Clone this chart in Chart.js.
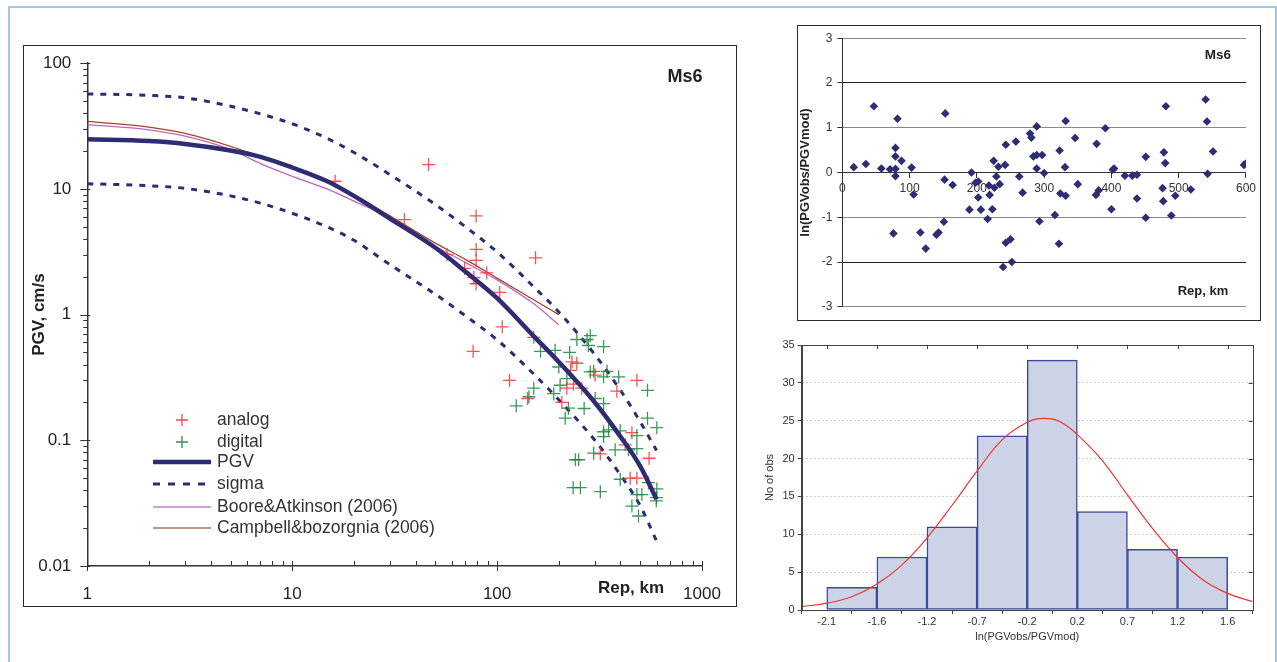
<!DOCTYPE html>
<html>
<head>
<meta charset="utf-8">
<script src="https://cdn.jsdelivr.net/npm/chart.js@4.4.1/dist/chart.umd.min.js"></script>
<style>
  body { margin: 0; background: #fff; width: 1277px; height: 662px; overflow: hidden; position: relative; }
  .page { position: absolute; left: 8px; top: 6px; width: 1269px; height: 700px; border: 2px solid #a3c7ea; box-sizing: border-box; }
  canvas { position: absolute; }
  .frame { position: absolute; border: 1.5px solid #2a2a2a; box-sizing: border-box; pointer-events: none; }
</style>
</head>
<body>
<div class="page"></div>
<canvas id="main" width="714" height="562" style="left:23px;top:45px;width:714px;height:562px"></canvas>
<div class="frame" style="left:23px;top:45px;width:714px;height:562px"></div>
<canvas id="resid" width="462" height="293" style="left:798px;top:26px;width:462px;height:293px"></canvas>
<div class="frame" style="left:797px;top:25px;width:464px;height:296px"></div>
<canvas id="hist" width="520" height="330" style="left:755px;top:330px;width:520px;height:330px"></canvas>
<script>
// model curves, distance in km
const curveDist = [1, 2, 3, 5, 7, 10, 15, 20, 30, 50, 70, 100, 150, 200, 300, 400, 500, 600];
const pgvModel = [24.8, 24.0, 22.8, 20.2, 18.0, 14.8, 11.4, 8.8, 5.8, 3.4, 2.2, 1.35, 0.68, 0.42, 0.2, 0.107, 0.062, 0.034];
const sigmaUpper = [57, 55.5, 53, 45.5, 39.5, 33, 25, 19.5, 13, 7.5, 5.0, 3.15, 1.68, 1.05, 0.48, 0.25, 0.14, 0.083];
const sigmaLower = [11, 10.6, 10.1, 8.8, 7.7, 6.4, 4.95, 3.9, 2.5, 1.45, 0.98, 0.63, 0.34, 0.21, 0.1, 0.053, 0.03, 0.0158];
const gmpeDist = [1, 2, 3, 5, 7, 10, 15, 20, 30, 50, 70, 100, 150, 200];
const booreAtkinson = [32.4, 29.5, 26.3, 20.6, 15.9, 12.6, 9.9, 8.0, 5.9, 3.5, 2.6, 1.89, 1.23, 0.83];
const campbellBozorgnia = [34.4, 31, 27.6, 21.8, 18, 14.8, 11.5, 9.0, 6.1, 3.7, 2.75, 1.95, 1.32, 1.0];

// observed PGV (cm/s) against epicentral distance (km)
const analogDist = [16.2, 35.3, 46.3, 57, 69.5, 76.4, 79, 79, 79, 77, 79, 89, 103, 106, 115, 141, 151, 154, 207, 219,
  228, 232, 236, 245, 259, 301, 319, 384, 422, 446, 455, 481, 481, 552];
const analogPgv = [11.5, 5.7, 15.6, 3.0, 2.33, 0.51, 6.1, 3.3, 2.7, 1.97, 1.76, 2.15, 1.5, 0.8, 0.3, 0.215, 0.66, 2.83, 0.2, 0.26,
  0.36, 0.42, 0.28, 0.41, 0.26, 0.33, 0.078, 0.246, 0.092, 0.05, 0.115, 0.3, 0.05, 0.072];
const digitalDist = [245, 275, 285, 331, 279, 163, 192, 226, 200, 285, 296, 331, 392, 344, 219, 203, 189, 151, 143, 124,
  223, 266, 215, 331, 301, 542, 542, 602, 331, 350, 331, 399, 481, 377, 438, 481, 296, 241, 250, 319,
  235, 255, 399, 548, 602, 600, 598, 481, 509, 455, 490];
const digitalPgv = [0.634, 0.634, 0.68, 0.557, 0.568, 0.51, 0.52, 0.5, 0.383, 0.35, 0.354, 0.32, 0.32, 0.354, 0.31, 0.274, 0.235, 0.26, 0.222, 0.188,
  0.18, 0.179, 0.15, 0.196, 0.215, 0.25, 0.15, 0.126, 0.117, 0.121, 0.107, 0.119, 0.109, 0.084, 0.084, 0.086, 0.079, 0.07, 0.07, 0.039,
  0.042, 0.042, 0.049, 0.046, 0.041, 0.035, 0.033, 0.037, 0.037, 0.03, 0.025];

// residuals ln(PGVobs/PGVmod)
const residDist = [17, 35, 47, 58, 71, 79, 79, 79, 79, 76, 82, 88, 103, 106, 116, 124, 140, 143, 151, 153,
  152, 164, 189, 192, 198, 202, 202, 206, 216, 218, 219, 223, 225, 226, 229, 232, 234, 239, 242, 243,
  243, 250, 252, 258, 263, 268, 279, 281, 284, 289, 289, 289, 297, 300, 293, 316, 322, 323, 324, 331,
  332, 332, 346, 350, 377, 378, 381, 391, 400, 402, 404, 420, 431, 438, 438, 451, 451, 476, 477, 478,
  480, 481, 489, 495, 518, 540, 542, 543, 551, 597, 600];
const residLn = [0.12, 0.19, 1.48, 0.09, 0.07, 0.08, 0.55, 0.36, -0.08, -1.36, 1.2, 0.26, 0.11, -0.49, -1.34, -1.7, -1.39, -1.34, -1.1, 1.32,
  -0.16, -0.28, -0.83, 0.0, -0.23, -0.2, -0.56, -0.83, -1.04, -0.29, -0.5, -0.82, 0.26, -0.34, -0.09, 0.13, -0.26, -2.11, 0.17, 0.62,
  -1.57, -1.49, -2.0, 0.69, -0.09, -0.45, 0.87, 0.78, 0.36, 1.03, 0.39, 0.09, 0.39, -0.01, -1.09, -0.95, -1.59, 0.49, -0.47, 0.12,
  1.15, -0.52, 0.77, -0.26, -0.5, 0.64, -0.4, 0.99, -0.82, 0.06, 0.09, -0.07, -0.07, -0.05, -0.58, 0.35, -1.01, -0.35, -0.64, 0.45,
  0.21, 1.48, -0.96, -0.52, -0.38, 1.63, 1.14, -0.03, 0.47, 0.17, 0.2];

// histogram of residuals and fitted normal curve
const binEdges = [-2.1, -1.6375, -1.175, -0.7125, -0.25, 0.2125, 0.675, 1.1375, 1.6];
const binLabels = ['-2.1', '-1.6', '-1.2', '-0.7', '-0.2', '0.2', '0.7', '1.2', '1.6'];
const binCounts = [3, 7, 11, 23, 33, 13, 8, 7];
const fitX = [-2.33, -2.1, -1.87, -1.64, -1.41, -1.175, -0.94, -0.71, -0.48, -0.25, -0.1, 0.05, 0.21, 0.44, 0.675, 0.91, 1.14, 1.37, 1.6, 1.83];
const fitY = [0.44, 0.9, 1.75, 3.4, 5.9, 9.5, 13.9, 18.4, 22.5, 24.8, 25.3, 24.9, 23.2, 19.8, 15.2, 10.7, 6.9, 4.0, 2.2, 1.1];

const NAVY = '#2e2c72';
const FONT = '"Liberation Sans", Arial, sans-serif';
Chart.defaults.font.family = FONT;

const pts = (xs, ys) => xs.map((x, i) => ({ x: x, y: ys[i] }));
const isDecade = (v) => Math.abs(Math.log10(v) - Math.round(Math.log10(v))) < 1e-6;

function cross(ctx, x, y, r, color) {
  ctx.strokeStyle = color;
  ctx.lineWidth = 1.3;
  ctx.beginPath();
  ctx.moveTo(x - r, y); ctx.lineTo(x + r, y);
  ctx.moveTo(x, y - r); ctx.lineTo(x, y + r);
  ctx.stroke();
}

function legendLine(ctx, y, color, width, dash) {
  ctx.strokeStyle = color;
  ctx.lineWidth = width;
  ctx.setLineDash(dash || []);
  ctx.beginPath();
  ctx.moveTo(130, y); ctx.lineTo(188, y);
  ctx.stroke();
  ctx.setLineDash([]);
}

// decade tick marks, legend and labels of the PGV panel
const mainDecor = {
  id: 'mainDecor',
  afterDraw(chart) {
    const { ctx, chartArea: a, scales: { x, y } } = chart;
    ctx.save();
    ctx.strokeStyle = '#333';
    ctx.lineWidth = 1;
    for (let e = -2; e <= 2; e++) {
      for (let k = 1; k <= 9; k++) {
        const v = k * Math.pow(10, e);
        if (v > 100.001) break;
        const py = Math.round(y.getPixelForValue(v)) + 0.5;
        ctx.beginPath();
        ctx.moveTo(a.left - (k === 1 ? 7 : 4), py);
        ctx.lineTo(a.left + (k === 1 ? 3 : 0), py);
        ctx.stroke();
      }
    }
    for (let e = 0; e <= 3; e++) {
      for (let k = 1; k <= 9; k++) {
        const v = k * Math.pow(10, e);
        if (v > 1000.001) break;
        const px = Math.round(x.getPixelForValue(v)) + 0.5;
        ctx.beginPath();
        ctx.moveTo(px, a.bottom - 5);
        ctx.lineTo(px, a.bottom + (k === 1 ? 5 : 0));
        ctx.stroke();
      }
    }

    ctx.fillStyle = '#222';
    ctx.textBaseline = 'middle';
    ctx.textAlign = 'center';
    ctx.font = 'bold 18px ' + FONT;
    ctx.fillText('Ms6', 662, 32);
    ctx.font = 'bold 17px ' + FONT;
    ctx.fillText('Rep, km', 608, 543);

    cross(ctx, 159, 375, 6, 'rgba(250,50,50,0.9)');
    cross(ctx, 159, 397, 6, 'rgba(25,135,60,0.9)');
    legendLine(ctx, 417, NAVY, 4.5);
    legendLine(ctx, 439, NAVY, 3, [7, 8]);
    legendLine(ctx, 462, '#c77dc7', 1.3);
    legendLine(ctx, 483, '#b9715d', 1.3);
    ctx.fillStyle = '#333';
    ctx.textAlign = 'left';
    ctx.font = '17.5px ' + FONT;
    ['analog', 'digital', 'PGV', 'sigma', 'Boore&Atkinson (2006)', 'Campbell&bozorgnia (2006)']
      .forEach((t, i) => ctx.fillText(t, 194, [375, 397, 417, 439, 462, 483][i]));
    ctx.restore();
  }
};

const curve = (label, xs, ys, color, width, dash) => ({
  label: label, data: pts(xs, ys), showLine: true, borderColor: color, borderWidth: width,
  borderDash: dash || [], pointRadius: 0, cubicInterpolationMode: 'monotone'
});

new Chart(document.getElementById('main'), {
  type: 'scatter',
  data: {
    datasets: [
      curve('PGV', curveDist, pgvModel, NAVY, 4.5),
      { label: 'digital', data: pts(digitalDist, digitalPgv), pointStyle: 'cross', pointRadius: 6.5,
        borderColor: 'rgba(25,135,60,0.85)', borderWidth: 1.3 },
      { label: 'analog', data: pts(analogDist, analogPgv), pointStyle: 'cross', pointRadius: 6.5,
        borderColor: 'rgba(250,50,50,0.85)', borderWidth: 1.3 },
      curve('Campbell&bozorgnia (2006)', gmpeDist, campbellBozorgnia, '#a3452c', 1.3),
      curve('Boore&Atkinson (2006)', gmpeDist, booreAtkinson, '#c065c0', 1.3),
      curve('sigma', curveDist, sigmaUpper, NAVY, 3, [6, 7]),
      curve('sigma', curveDist, sigmaLower, NAVY, 3, [6, 7])
    ]
  },
  options: {
    responsive: false,
    animation: false,
    layout: { padding: { top: 14, right: 35, left: 0, bottom: 0 } },
    plugins: { legend: { display: false }, tooltip: { enabled: false } },
    scales: {
      x: {
        type: 'logarithmic', min: 1, max: 1000,
        afterFit(s) { s.height = 41; },
        grid: { drawOnChartArea: false, color: 'transparent', tickLength: 8 },
        border: { color: '#333', width: 1.5 },
        ticks: { autoSkip: false, maxRotation: 0, padding: 10, color: '#222', font: { size: 17 },
          callback: (v) => isDecade(v) ? String(v) : '' }
      },
      y: {
        type: 'logarithmic', min: 0.01, max: 100,
        afterFit(s) { s.width = 64.3; },
        grid: { drawOnChartArea: false, color: 'transparent', tickLength: 8 },
        border: { color: '#333', width: 1.5 },
        ticks: { autoSkip: false, padding: 8, color: '#222', font: { size: 17 },
          callback: (v) => isDecade(v) ? String(v) : '' },
        title: { display: true, text: 'PGV, cm/s', color: '#222', font: { size: 17, weight: 'bold' }, padding: { top: 6, bottom: 0 } }
      }
    }
  },
  plugins: [mainDecor]
});

// labels inside the residual panel
const residDecor = {
  id: 'residDecor',
  afterDraw(chart) {
    const ctx = chart.ctx;
    ctx.save();
    ctx.fillStyle = '#222';
    ctx.textAlign = 'center';
    ctx.textBaseline = 'middle';
    ctx.font = 'bold 13.5px ' + FONT;
    ctx.fillText('Ms6', 420, 29);
    ctx.font = 'bold 13px ' + FONT;
    ctx.fillText('Rep, km', 405, 265);
    ctx.restore();
  }
};

new Chart(document.getElementById('resid'), {
  type: 'scatter',
  data: {
    datasets: [{ data: pts(residDist, residLn), pointStyle: 'rectRot', pointRadius: 4.3,
      backgroundColor: NAVY, borderWidth: 0 }]
  },
  options: {
    responsive: false,
    animation: false,
    layout: { padding: { top: 11.7, right: 11.7, bottom: 8, left: 0 } },
    plugins: { legend: { display: false }, tooltip: { enabled: false } },
    scales: {
      x: {
        type: 'linear', min: 0, max: 600, position: { y: 0 },
        afterFit(s) { s.height = 0; },
        grid: { drawOnChartArea: false, tickLength: 5, color: '#333' },
        border: { color: '#333', width: 1 },
        ticks: { stepSize: 100, maxRotation: 0, padding: 4, color: '#333', font: { size: 12 } }
      },
      y: {
        min: -3, max: 3,
        afterFit(s) { s.width = 44.3; },
        grid: { color: (c) => Math.abs(c.tick.value) === 2 ? '#222' : '#8a8a8a', tickColor: '#333', tickLength: 5 },
        border: { color: '#333', width: 1 },
        ticks: { stepSize: 1, padding: 5, color: '#333', font: { size: 12 } },
        title: { display: true, text: 'ln(PGVobs/PGVmod)', color: '#222', font: { size: 13, weight: 'bold' }, padding: { top: 0, bottom: 0 } }
      }
    }
  },
  plugins: [residDecor]
});

// box with inward ticks on the top and right of the histogram
const histFrame = {
  id: 'histFrame',
  afterDraw(chart) {
    const { ctx, chartArea: a, scales: { x, y } } = chart;
    ctx.save();
    ctx.strokeStyle = '#444';
    ctx.lineWidth = 1;
    ctx.strokeRect(Math.round(a.left) + 0.5, Math.round(a.top) + 0.5, Math.round(a.width), Math.round(a.height));
    ctx.beginPath();
    x.ticks.forEach((t) => {
      const px = Math.round(x.getPixelForValue(t.value)) + 0.5;
      ctx.moveTo(px, a.top); ctx.lineTo(px, a.top + 4);
    });
    y.ticks.forEach((t) => {
      const py = Math.round(y.getPixelForValue(t.value)) + 0.5;
      ctx.moveTo(a.right, py); ctx.lineTo(a.right - 4, py);
    });
    ctx.stroke();
    ctx.restore();
  }
};

new Chart(document.getElementById('hist'), {
  type: 'bar',
  data: {
    datasets: [
      { type: 'line', data: pts(fitX, fitY), borderColor: '#ee3333', borderWidth: 1.2, pointRadius: 0,
        tension: 0.4, order: 0 },
      { type: 'bar', data: binCounts.map((c, i) => ({ x: (binEdges[i] + binEdges[i + 1]) / 2, y: c })),
        backgroundColor: '#cdd3e6', borderColor: '#3b4a9c', borderWidth: 1.5, borderSkipped: false,
        barPercentage: 1, categoryPercentage: 1, order: 1 }
    ]
  },
  options: {
    responsive: false,
    animation: false,
    layout: { padding: { top: 15, right: 22.3, left: 0, bottom: 0 } },
    plugins: { legend: { display: false }, tooltip: { enabled: false } },
    scales: {
      x: {
        type: 'linear', min: -2.33125, max: 1.83125, offset: false,
        afterBuildTicks(s) { s.ticks = binEdges.map((v) => ({ value: v })); },
        afterFit(s) { s.height = 50; },
        grid: { drawOnChartArea: false, tickLength: 4, color: '#444' },
        border: { color: '#444', width: 1 },
        ticks: { autoSkip: false, maxRotation: 0, padding: 1, color: '#333', font: { size: 11 },
          callback: (v, i) => binLabels[i] },
        title: { display: true, text: 'ln(PGVobs/PGVmod)', color: '#333', font: { size: 11 }, padding: { top: 0, bottom: 16 } }
      },
      y: {
        min: 0, max: 35,
        afterFit(s) { s.width = 46.7; },
        grid: { color: '#cfcfcf', tickColor: '#444', tickLength: 4, tickBorderDash: [] },
        border: { color: '#444', width: 1, dash: [2, 2] },
        ticks: { stepSize: 5, padding: 3, color: '#333', font: { size: 11 } },
        title: { display: true, text: 'No of obs', color: '#333', font: { size: 11 }, padding: { top: 8, bottom: 0 } }
      }
    }
  },
  plugins: [histFrame]
});
</script>
</body>
</html>
